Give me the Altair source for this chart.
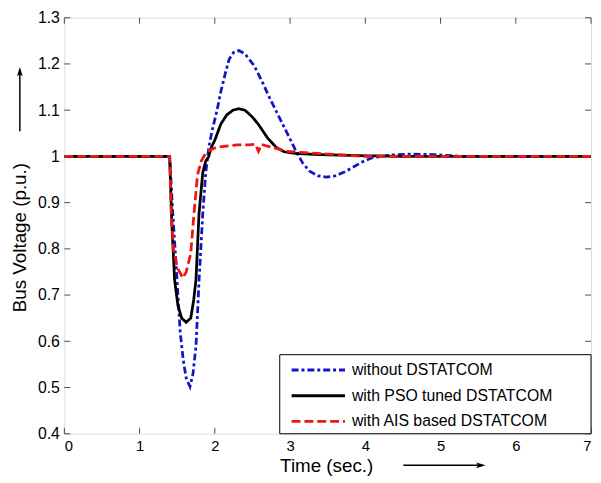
import altair as alt
import pandas as pd

series_names = ["without DSTATCOM", "with PSO tuned DSTATCOM", "with AIS based DSTATCOM"]
series_colors = ["#1414c8", "#000000", "#f01414"]
series_dashes = [[7, 3, 3, 3], [10, 0], [9, 4]]

# without DSTATCOM (blue, dash-dot)
t_blue = [0, 1.40, 1.44, 1.48, 1.51, 1.54, 1.58, 1.62, 1.67, 1.71, 1.75, 1.79, 1.84, 1.88,
          1.92, 1.97, 2.03, 2.08, 2.14, 2.19, 2.25, 2.32, 2.40, 2.52, 2.62, 2.73, 2.84,
          2.95, 3.08, 3.17, 3.26, 3.37, 3.48, 3.60, 3.72, 3.83, 3.96, 4.09, 4.35, 4.60,
          4.90, 5.30, 7.0]
v_blue = [1.0, 1.0, 0.88, 0.78, 0.70, 0.62, 0.56, 0.52, 0.502, 0.53, 0.59, 0.73, 0.876, 0.965,
          1.02, 1.06, 1.10, 1.14, 1.18, 1.21, 1.225, 1.229, 1.222, 1.197, 1.165, 1.126, 1.09,
          1.054, 1.011, 0.985, 0.968, 0.958, 0.955, 0.958, 0.966, 0.976, 0.988, 0.997, 1.003, 1.005,
          1.004, 1.0, 1.0]

# with PSO tuned DSTATCOM (black, solid)
t_pso = [0, 1.40, 1.43, 1.465, 1.51, 1.56, 1.62, 1.68, 1.72, 1.75, 1.79, 1.84, 1.88, 1.92,
         1.95, 2.00, 2.08, 2.16, 2.24, 2.32, 2.40, 2.50, 2.58, 2.70, 2.82, 2.92, 3.10, 3.40,
         3.80, 4.50, 7.0]
v_pso = [1.0, 1.0, 0.85, 0.734, 0.677, 0.65, 0.641, 0.65, 0.69, 0.734, 0.876, 0.965, 0.99, 1.0,
         1.018, 1.035, 1.07, 1.09, 1.10, 1.103, 1.10, 1.085, 1.069, 1.04, 1.019, 1.01, 1.006, 1.004,
         1.002, 1.0, 1.0]

# with AIS based DSTATCOM (red, dashed)
t_ais = [0, 1.40, 1.42, 1.45, 1.50, 1.575, 1.62, 1.68, 1.72, 1.77, 1.82, 1.88, 1.95, 2.03,
         2.15, 2.30, 2.45, 2.54, 2.58, 2.62, 2.70, 2.78, 2.95, 3.20, 3.50, 4.00, 7.0]
v_ais = [1.0, 1.0, 0.88, 0.80, 0.76, 0.737, 0.75, 0.79, 0.87, 0.96, 0.99, 1.007, 1.015, 1.02,
         1.022, 1.025, 1.025, 1.026, 1.011, 1.026, 1.022, 1.019, 1.011, 1.008, 1.005, 1.0, 1.0]

x_ticks = [0, 1, 2, 3, 4, 5, 6, 7]
y_ticks = [0.4, 0.5, 0.6, 0.7, 0.8, 0.9, 1.0, 1.1, 1.2, 1.3]

rows = []
for name, ts, vs in zip(series_names, [t_blue, t_pso, t_ais], [v_blue, v_pso, v_ais]):
    for t, v in zip(ts, vs):
        rows.append({"series": name, "t": t, "v": v})
df = pd.DataFrame(rows)

FONT = "Liberation Sans"
x_scale = alt.Scale(domain=[0, 7], nice=False)
y_scale = alt.Scale(domain=[0.4, 1.3], nice=False, zero=False)

lines = alt.Chart(df).mark_line(strokeWidth=2.8, clip=True).encode(
    x=alt.X("t:Q", scale=x_scale, axis=alt.Axis(
        values=x_ticks, format="d", title="Time (sec.)", ticks=False, domain=False, grid=False,
        labelFont=FONT, labelFontSize=15, labelColor="black", labelPadding=5,
        titleFont=FONT, titleFontSize=19, titleFontWeight="normal", titleColor="black",
        titleY=32, titleX=265, titleBaseline="middle")),
    y=alt.Y("v:Q", scale=y_scale, axis=alt.Axis(
        values=y_ticks, format=".1~f", title="Bus Voltage (p.u.)", ticks=False, domain=False, grid=False,
        labelFont=FONT, labelFontSize=16, labelColor="black", labelPadding=5,
        titleFont=FONT, titleFontSize=19, titleFontWeight="normal", titleColor="black",
        titleX=-45, titleY=222, titleBaseline="middle", titleAngle=-90)),
    color=alt.Color("series:N", scale=alt.Scale(domain=series_names, range=series_colors), legend=None),
    strokeDash=alt.StrokeDash("series:N", scale=alt.Scale(domain=series_names, range=series_dashes), legend=None),
)

xt = pd.DataFrame({"t": x_ticks})
yt = pd.DataFrame({"v": y_ticks})
tick_style = dict(color="black", thickness=1, size=6)
bottom_ticks = alt.Chart(xt).mark_tick(orient="vertical", yOffset=-3, **tick_style).encode(
    x=alt.X("t:Q", scale=x_scale), y=alt.datum(0.4, scale=y_scale))
top_ticks = alt.Chart(xt).mark_tick(orient="vertical", yOffset=3, **tick_style).encode(
    x=alt.X("t:Q", scale=x_scale), y=alt.datum(1.3, scale=y_scale))
left_ticks = alt.Chart(yt).mark_tick(orient="horizontal", xOffset=3, **tick_style).encode(
    y=alt.Y("v:Q", scale=y_scale), x=alt.datum(0, scale=x_scale))
right_ticks = alt.Chart(yt).mark_tick(orient="horizontal", xOffset=-3, **tick_style).encode(
    y=alt.Y("v:Q", scale=y_scale), x=alt.datum(7, scale=x_scale))

one = pd.DataFrame({"a": [0]})
y_arrow = alt.Chart(one).mark_rule(color="black", strokeWidth=1.5).encode(
    x=alt.value(-45), y=alt.value(56), y2=alt.value(115))
y_head = alt.Chart(one).mark_point(
    shape="M0,-1L0.55,0.8L0,0.4L-0.55,0.8Z", filled=True, color="black", size=110, opacity=1
).encode(x=alt.value(-45), y=alt.value(55))
x_arrow = alt.Chart(one).mark_rule(color="black", strokeWidth=1.5).encode(
    x=alt.value(343), x2=alt.value(420), y=alt.value(453))
x_head = alt.Chart(one).mark_point(
    shape="M1,0L-0.8,0.55L-0.4,0L-0.8,-0.55Z", filled=True, color="black", size=110, opacity=1
).encode(x=alt.value(421), y=alt.value(453))

# legend box (inside plot, bottom-right)
legend_layers = [
    alt.Chart(one).mark_rect(fill="white", stroke="black", strokeWidth=1).encode(
        x=alt.value(218), x2=alt.value(533), y=alt.value(341), y2=alt.value(421))
]
for i, (name, col, dash) in enumerate(zip(series_names, series_colors, series_dashes)):
    yy = 356.5 + 26 * i
    legend_layers.append(
        alt.Chart(one).mark_rule(color=col, strokeWidth=3, strokeDash=dash).encode(
            x=alt.value(230), x2=alt.value(284), y=alt.value(yy)))
    legend_layers.append(
        alt.Chart(one).mark_text(text=name, font=FONT, fontSize=16, color="black",
                                 align="left", baseline="middle").encode(
            x=alt.value(291), y=alt.value(yy)))

chart = alt.layer(
    bottom_ticks, top_ticks, left_ticks, right_ticks, lines, *legend_layers,
    y_arrow, y_head, x_arrow, x_head
).properties(
    width=533, height=421,
    autosize=alt.AutoSizeParams(type="none"),
    padding={"left": 57, "top": 7, "right": 2, "bottom": 45},
).configure_view(stroke="black", strokeWidth=1).configure(background="white")

chart.save("out.html", embed_options={"renderer": "svg", "actions": False})
